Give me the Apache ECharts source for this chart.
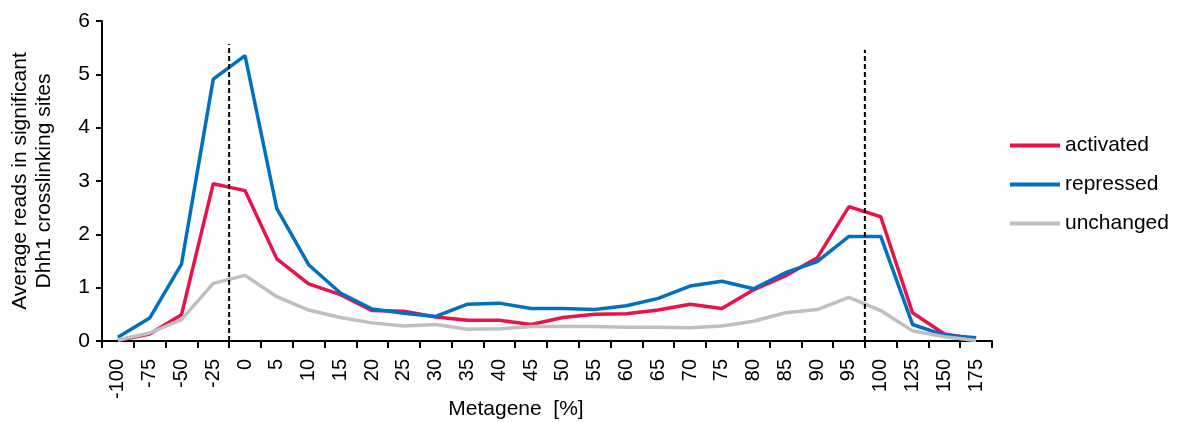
<!DOCTYPE html>
<html>
<head>
<meta charset="utf-8">
<script src="https://cdn.jsdelivr.net/npm/echarts@6/dist/echarts.min.js"></script>
<style>
html,body{margin:0;padding:0;background:#fff;}
#chart{width:1178px;height:422px;}
</style>
</head>
<body>
<div id="chart"></div>
<script>
const categories = ['-100','-75','-50','-25','0','5','10','15','20','25','30','35','40','45','50','55','60','65','70','75','80','85','90','95','100','125','150','175'];
const activated = [0.01,0.13,0.49,2.95,2.82,1.54,1.07,0.87,0.57,0.56,0.45,0.39,0.39,0.31,0.44,0.50,0.51,0.58,0.69,0.61,0.96,1.22,1.56,2.52,2.33,0.53,0.13,0.04];
const repressed = [0.07,0.43,1.44,4.91,5.35,2.48,1.43,0.90,0.60,0.52,0.46,0.69,0.71,0.61,0.61,0.59,0.66,0.80,1.03,1.12,0.98,1.28,1.49,1.96,1.96,0.31,0.11,0.06];
const unchanged = [0.02,0.15,0.40,1.08,1.23,0.83,0.58,0.44,0.34,0.28,0.31,0.22,0.23,0.27,0.27,0.27,0.26,0.26,0.25,0.28,0.37,0.53,0.59,0.82,0.57,0.19,0.08,0.01];
// category boundaries (in category-slot units) where the dashed dividers sit, and their top values
const dividerPositions = [4, 24];
const dividerTops = [5.57, 5.46];
const yTicks = [0, 6, 1]; // min, max, interval

const FONT = "'Liberation Sans', Arial, sans-serif";
const chart = echarts.init(document.getElementById('chart'));

const lineSeries = (name, data, color) => ({
  name, type: 'line', data, symbol: 'none', smooth: false,
  lineStyle: { color, width: 3.5 }, itemStyle: { color }, z: 2
});

const dividerSeries = dividerPositions.map((p, i) => ({
  type: 'line', xAxisIndex: 1, symbol: 'none', silent: true,
  data: [[p, 0], [p, dividerTops[i]]],
  lineStyle: { color: '#000', width: 2, type: [5, 3] }, z: 5
}));

chart.setOption({
  animation: false,
  textStyle: { fontFamily: FONT },
  grid: { left: 102, right: 186, top: 21, bottom: 81, containLabel: false, outerBoundsMode: 'none' },
  legend: {
    orient: 'vertical', left: 1005, top: 130,
    icon: 'rect', itemWidth: 50, itemHeight: 4, itemGap: 18,
    textStyle: { fontFamily: FONT, fontSize: 21, color: '#000', padding: [0,0,0,0] },
    data: ['activated', 'repressed', 'unchanged']
  },
  xAxis: [{
    type: 'category', data: categories, boundaryGap: true,
    axisLine: { lineStyle: { color: '#000', width: 2 } },
    axisTick: { show: true, length: 7, lineStyle: { color: '#000', width: 2 } },
    axisLabel: { rotate: 90, margin: 18, fontSize: 20, color: '#000', fontFamily: FONT, interval: 0 },
    splitLine: { show: false },
    name: 'Metagene  [%]', nameLocation: 'middle', nameGap: 58, nameMoveOverlap: false,
    nameTextStyle: { fontSize: 21, color: '#000', fontFamily: FONT, padding: [0, 62, 0, 0] }
  }, {
    type: 'value', min: 0, max: categories.length, show: false, position: 'bottom'
  }],
  yAxis: {
    type: 'value', min: yTicks[0], max: yTicks[1], interval: yTicks[2],
    axisLine: { show: true, lineStyle: { color: '#000', width: 2 } },
    axisTick: { show: true, length: 6, lineStyle: { color: '#000', width: 2 } },
    axisLabel: { margin: 12, fontSize: 21, color: '#000', fontFamily: FONT },
    splitLine: { show: false },
    name: 'Average reads in significant\nDhh1 crosslinking sites',
    nameLocation: 'middle', nameRotate: 90, nameGap: 46, nameMoveOverlap: false,
    nameTextStyle: { fontSize: 21, color: '#000', fontFamily: FONT, lineHeight: 24 }
  },
  series: [
    lineSeries('activated', activated, '#E8134A'),
    lineSeries('repressed', repressed, '#0070C0'),
    lineSeries('unchanged', unchanged, '#BFBFBF'),
    ...dividerSeries
  ]
});
</script>
</body>
</html>
